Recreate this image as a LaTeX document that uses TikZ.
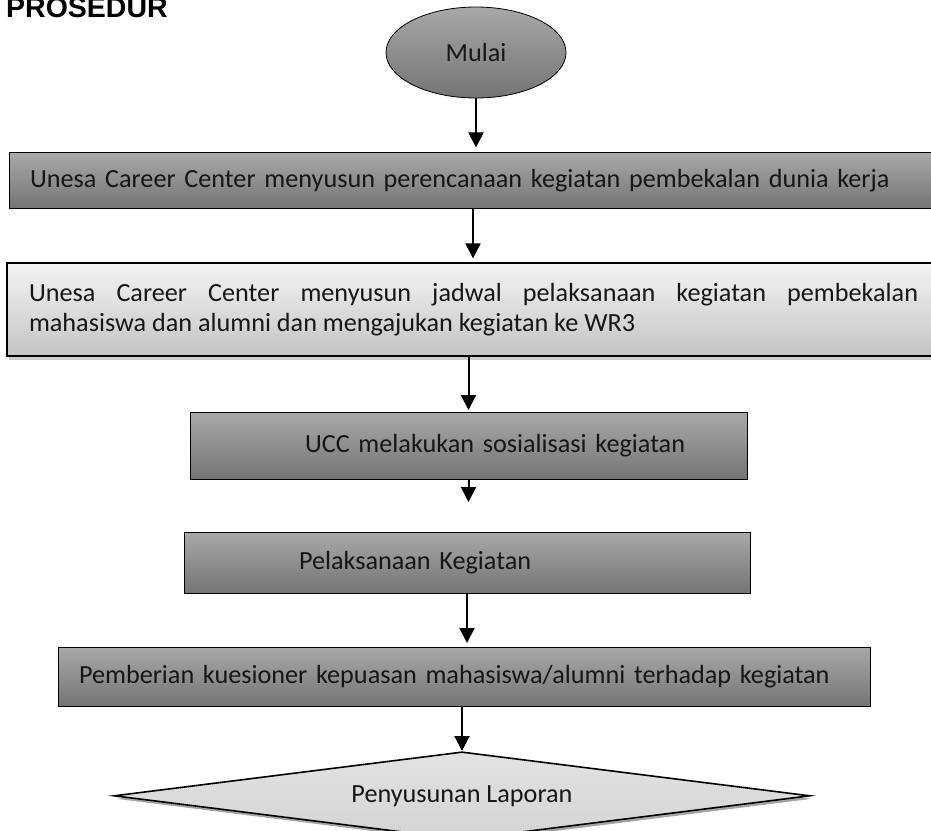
\documentclass[tikz,border=0pt]{standalone}
\usepackage{fontspec}
\setmainfont{Carlito}
\newfontfamily\headfont{Liberation Sans}
\usepackage{tikz}
\usetikzlibrary{arrows.meta, positioning, shapes.geometric, shadows}
\definecolor{darktop}{RGB}{168,168,168}
\definecolor{darkbot}{RGB}{116,116,116}
\definecolor{lighttop}{RGB}{244,244,244}
\definecolor{lightbot}{RGB}{196,196,196}
\definecolor{diamtop}{RGB}{226,226,226}
\definecolor{diambot}{RGB}{212,212,212}
\definecolor{inktext}{RGB}{22,22,22}

\begin{document}
\begin{tikzpicture}[
  x=1pt, y=-1pt,
  font=\fontsize{26.2}{30.5}\selectfont,
  darkbox/.style={rectangle, draw=black, line width=1pt, top color=darktop, bottom color=darkbot, text=inktext, inner sep=0pt},
  lightbox/.style={rectangle, draw=black, line width=1.6pt, top color=lighttop, bottom color=lightbot, text=inktext, inner sep=0pt,
    drop shadow={shadow xshift=2pt, shadow yshift=-4pt, fill=gray!80}},
  startnode/.style={ellipse, draw=black, line width=0.8pt, top color=darktop, bottom color=darkbot, text=inktext,
    minimum width=180pt, minimum height=91pt, inner sep=0pt},
  endnode/.style={diamond, aspect=7.9, draw=black, line width=1.6pt, top color=diamtop, bottom color=diambot, text=inktext,
    minimum width=696pt, minimum height=88pt, inner sep=0pt,
    drop shadow={shadow xshift=2pt, shadow yshift=-3pt, fill=black!70}},
  flow/.style={-{Triangle[length=15pt, width=15pt]}, line width=2pt}
]
\useasboundingbox (0,0) rectangle (931,830);

\node[font=\headfont\bfseries\fontsize{28.5}{31}\selectfont, anchor=base west, inner sep=0pt] (judul) at (6,17) {PROSEDUR};

\node[startnode] (mulai) at (476,52.5) {Mulai};
\node[darkbox, minimum width=928pt, minimum height=56pt, text width=886pt, align=left]
  (rencana) [below=54pt of mulai, xshift=-3pt]
  {Unesa Career Center menyusun perencanaan kegiatan pembekalan dunia kerja};
\node[lightbox, minimum width=933pt, minimum height=93pt, text width=889pt, align=justify]
  (jadwal) [below=53pt of rencana, xshift=0.5pt]
  {Unesa Career Center menyusun jadwal pelaksanaan kegiatan pembekalan\linebreak mahasiswa dan alumni dan mengajukan kegiatan ke WR3};
\node[darkbox, minimum width=557pt, minimum height=67pt, text width=557pt, align=left]
  (sosialisasi) [below=55pt of jadwal, xshift=-5pt]
  {\hspace*{115pt}UCC melakukan sosialisasi kegiatan};
\node[darkbox, minimum width=566pt, minimum height=61pt, text width=566pt, align=left]
  (pelaksanaan) [below=52pt of sosialisasi, xshift=-1.5pt]
  {\hspace*{115pt}Pelaksanaan Kegiatan};
\node[darkbox, minimum width=812pt, minimum height=59pt, text width=770pt, align=left]
  (kuesioner) [below=53pt of pelaksanaan, xshift=-3pt]
  {Pemberian kuesioner kepuasan mahasiswa/alumni terhadap kegiatan};
\node[endnode] (laporan) [below=44pt of kuesioner, xshift=-2pt] {Penyusunan Laporan};

\draw[flow, shorten >=5pt] (mulai.south) -- (mulai.south |- rencana.north);
\draw[flow, shorten >=4pt] (rencana.south) -- (rencana.south |- jadwal.north);
\draw[flow, shorten >=2pt] (jadwal.south -| sosialisasi.north) -- (sosialisasi.north);
\draw[flow, shorten >=30pt] (sosialisasi.south) -- (sosialisasi.south |- pelaksanaan.north);
\draw[flow, shorten >=4pt] (pelaksanaan.south) -- (pelaksanaan.south |- kuesioner.north);
\draw[flow] (kuesioner.south -| laporan.north) -- (laporan.north);
\end{tikzpicture}
\end{document}
